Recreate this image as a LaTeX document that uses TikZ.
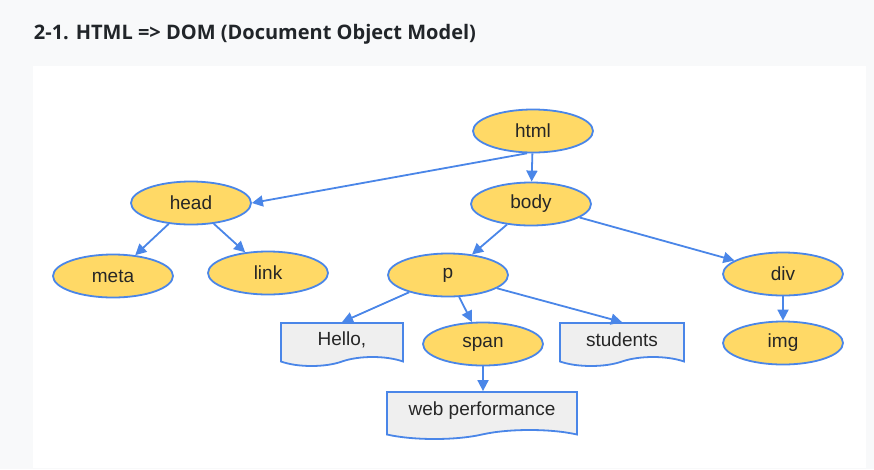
\documentclass[tikz,border=0pt]{standalone}
\usepackage{fontspec}
\setmainfont{Liberation Sans}
\newfontfamily\titlefont{Open Sans}
\usetikzlibrary{arrows.meta,shapes.geometric,shapes.symbols}
\definecolor{domblue}{HTML}{4A86E8}
\definecolor{domyellow}{HTML}{FFD966}
\definecolor{domgray}{HTML}{EFEFEF}
\definecolor{pagegray}{HTML}{F8F9FA}
\definecolor{titleink}{HTML}{212529}

\begin{document}
\begin{tikzpicture}[x=1pt, y=-1pt,
      every node/.style = {draw=domblue, line width=1.8pt, inner sep=0pt,
        font=\fontsize{19}{22}\selectfont, text=black!85},
      tag/.style = {ellipse, fill=domyellow, minimum width=120pt, minimum height=43pt},
      txt/.style = {tape, tape bend top=none, tape bend bottom=in and out,
        tape bend height=9pt, fill=domgray, minimum height=43pt},
      branch/.style = {draw=domblue, line width=1.8pt, -{Triangle[length=11pt,width=11pt]}}]
  \fill[pagegray] (0,0) rectangle (874,469);
  \fill[white] (33,66) rectangle (866,468);
  \node[draw=none, anchor=base west, text=titleink,
        font=\titlefont\bfseries\fontsize{20}{24}\selectfont] (title) at (33,39)
        {2-1. HTML => DOM (Document Object Model)};
  % element nodes
  \node[tag] (html) at (533,131) {html};
  \node[tag] (head) at (191,203) {head};
  \node[tag] (body) at (531,204) {body};
  \node[tag] (meta) at (113,276) {meta};
  \node[tag] (link) at (268,273) {link};
  \node[tag] (p) at (448,275) {p};
  \node[tag] (div) at (783,274) {div};
  \node[tag] (span) at (483,344) {span};
  \node[tag] (img) at (783,343) {img};
  % text nodes
  \node[txt, minimum width=122pt] (hello) at (342,340) {Hello,};
  \node[txt, minimum width=124pt] (students) at (622,340) {students};
  \node[txt, minimum width=190pt, minimum height=47pt] (webperf) at (482,411) {web performance};
  % connectors
  \draw[branch] (html.-105) -- (head.east);
  \draw[branch] (html) -- (body);
  \draw[branch] (head) -- (meta);
  \draw[branch] (head) -- (link);
  \draw[branch] (body) -- (p);
  \draw[branch] (body) -- (div);
  \draw[branch] (p) -- (hello.north);
  \draw[branch] (p) -- (span);
  \draw[branch] (p) -- (students.north);
  \draw[branch] (span) -- (span |- webperf.north);
  \draw[branch] (div) -- (img);
\end{tikzpicture}
\end{document}
